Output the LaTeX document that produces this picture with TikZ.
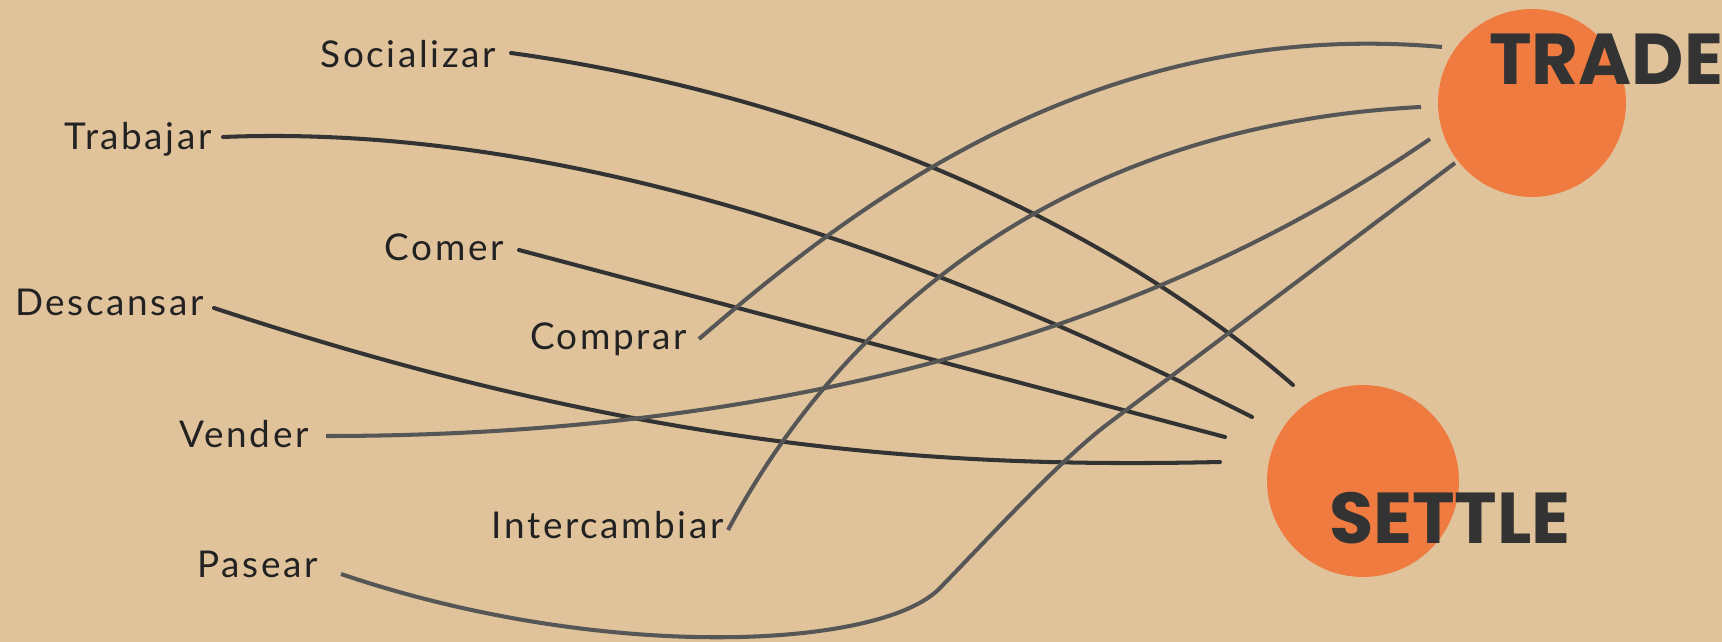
\documentclass[tikz,border=0pt]{standalone}
\usepackage{fontspec}
\usepackage{tikz}
\usetikzlibrary{positioning}
\newfontfamily\verbfont{Lato}[LetterSpace=7]
\newfontfamily\hubfont{Poppins}
\definecolor{arena}{HTML}{E0C39B}
\definecolor{naranja}{HTML}{F07B40}
\definecolor{tinta}{HTML}{222222}
\definecolor{oscuro}{HTML}{333333}
\definecolor{gris}{HTML}{565656}

\begin{document}
\begin{tikzpicture}[
        x=0.02cm, y=-0.02cm,
        % verbos: anclados en la linea base, borde derecho del texto
        verb/.style={anchor=base east, inner sep=0pt, text=tinta,
                     font=\verbfont\fontsize{21}{24}\selectfont},
        hub/.style={circle, fill=naranja, inner sep=0pt},
        hubword/.style={anchor=base, inner sep=0pt, text=oscuro,
                        font=\hubfont\bfseries\fontsize{41}{44}\selectfont},
        settleflow/.style={draw=oscuro, line width=2.3pt, line cap=round},
        tradeflow/.style={draw=gris, line width=2.3pt}
    ]
        \useasboundingbox (0,0) rectangle (1722,642);
        \fill[arena] (0,0) rectangle (1722,642);

        \node[hub, minimum size=3.76cm] (trade) at (1532,103) {};
        \node[hub, minimum size=3.84cm] (settle) at (1363,481) {};

        \node[verb] (socializar) at (496,68) {Socializar};
        \node[verb] (trabajar) at (212,150) {Trabajar};
        \node[verb] (comer) at (504,260) {Comer};
        \node[verb] (descansar) at (204,315) {Descansar};
        \node[verb] (comprar) at (687,349) {Comprar};
        \node[verb] (vender) at (309,447) {Vender};
        \node[verb] (intercambiar) at (724,538) {Intercambiar};
        \node[verb] (pasear) at (318,577) {Pasear};

        % hacia SETTLE
        \draw[settleflow] ([shift={(15,-15)}]socializar.base east)
            .. controls (780,90) and (1080,200) .. ([shift={(-70,-96)}]settle.center);
        \draw[settleflow] ([shift={(11,-13)}]trabajar.base east)
            .. controls (516,125) and (859,218) .. ([shift={(-111,-64)}]settle.center);
        \draw[settleflow] ([shift={(15,-10)}]comer.base east)
            -- ([shift={(-138,-44)}]settle.center);
        \draw[settleflow] ([shift={(10,-7)}]descansar.base east)
            .. controls (650,452) and (950,468) .. ([shift={(-143,-19)}]settle.center);

        % hacia TRADE
        \draw[tradeflow] ([shift={(12,-10)}]comprar.base east)
            .. controls (849,210) and (1092,16) .. ([shift={(-90,-56)}]trade.center);
        \draw[tradeflow] ([shift={(17,-11)}]vender.base east)
            .. controls (750,436) and (1130,345) .. ([shift={(-102,36)}]trade.center);
        \draw[tradeflow] ([shift={(4,-8)}]intercambiar.base east)
            .. controls (840,320) and (1060,125) .. ([shift={(-111,4)}]trade.center);
        \draw[tradeflow] ([shift={(23,-3)}]pasear.base east)
            .. controls (600,662) and (880,650) .. (940,588)
            .. controls (1000,526) and (1065,455) .. (1113,420)
            -- ([shift={(-77,60)}]trade.center);

        \node[hubword] (tradeword) at (1606,85) {TRADE};
        \node[hubword] (settleword) at (1450,543) {SETTLE};
    \end{tikzpicture}
\end{document}
